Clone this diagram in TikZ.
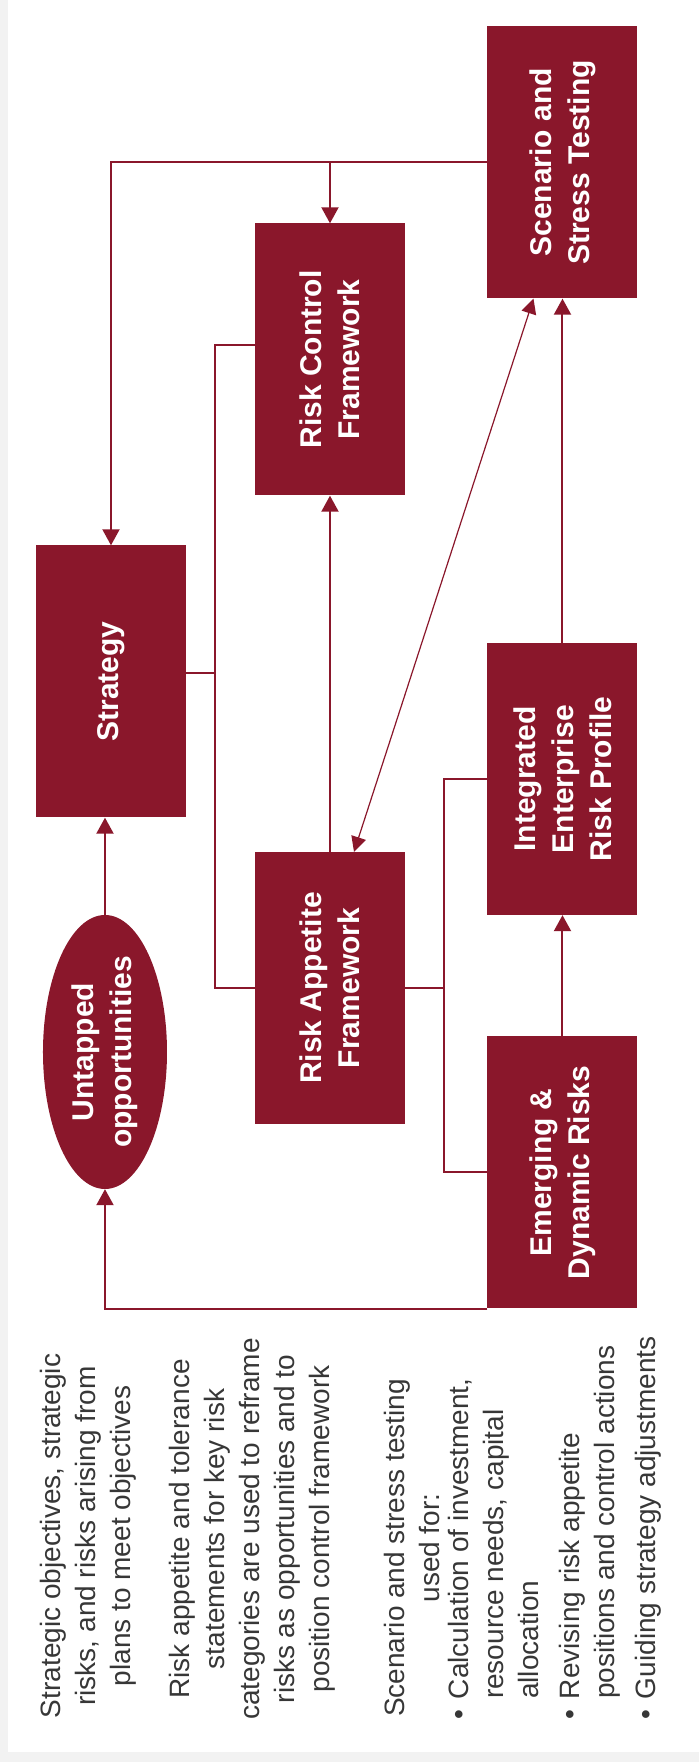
\documentclass[tikz,border=0pt]{standalone}
\usepackage{fontspec}
\setmainfont{Liberation Sans}
\usetikzlibrary{shapes.geometric, arrows.meta, positioning}
\definecolor{riskred}{RGB}{138,23,43}
\definecolor{notegray}{RGB}{55,55,55}
\tikzstyle{block}=[rectangle, fill=riskred, text=white, minimum width=272pt, minimum height=150pt, inner sep=0pt, align=center, font=\fontsize{30}{38}\selectfont\bfseries]
\tikzstyle{bubble}=[ellipse, fill=riskred, text=white, minimum width=274pt, minimum height=124pt, inner sep=0pt, align=center, font=\fontsize{30}{38}\selectfont\bfseries]
\tikzstyle{link}=[draw=riskred, line width=2pt]
\tikzstyle{flow}=[link, -{Triangle[length=16pt, width=17pt]}]
\tikzstyle{twoway}=[draw=riskred, line width=1.2pt, {Triangle[length=15pt, width=15pt]}-{Triangle[length=15pt, width=15pt]}]
\tikzstyle{note}=[inner sep=0pt, align=center, text=notegray, font=\fontsize{28}{35}\selectfont]

\begin{document}
\begin{tikzpicture}[x=1pt, y=1pt, rotate=90, transform shape]
    % Page with grey frame
    \useasboundingbox (0,0) rectangle (1762,699);
    \fill[gray!10] (0,0) rectangle (1762,699);
    \fill[white] (10,0) rectangle (1762,691);

    % Boxes
    \node[block] (scenario) at (1599.5,136.5) {Scenario and\\Stress Testing};
    \node[block] (integrated) at (983,136.5) {Integrated\\Enterprise\\Risk Profile};
    \node[block] (emerging) at (589.5,136.5) {Emerging \&\\Dynamic Risks};
    \node[block] (control) at (1402.5,369) {Risk Control\\Framework};
    \node[block] (appetite) at (774,369) {Risk Appetite\\Framework};
    \node[block] (strategy) at (1080.5,588) {Strategy};
    \node[bubble] (untapped) at (710,594) {Untapped\\opportunities};

    % Feedback from scenario testing
    \draw[flow] (scenario.north) |- (strategy.east);
    \draw[flow] (scenario.north |- control.east) -- (control.east);

    % Strategy, control and appetite bracket
    \draw[link] ([xshift=14pt]control.north) -- ++(0,40) -| (appetite.north);
    \draw[link] ([xshift=8pt]strategy.south) -- ++(0,-28);
    \draw[flow] (appetite.east) -- (control.west);

    % Two-way link
    \draw[twoway] ([yshift=-24pt]appetite.east) -- ([yshift=29pt]scenario.west);

    % Risk profile chain
    \draw[flow] (emerging.east) -- (integrated.west);
    \draw[flow] (integrated.east) -- (scenario.west);
    \draw[link] (integrated.north) -- ++(0,43) -| (emerging.north);
    \draw[link] (appetite.south) -- ++(0,-40);

    % Opportunities
    \draw[flow] (untapped.east) -- (untapped.east -| strategy.west);
    \draw[flow] (emerging.north west) |- (untapped.west);

    % Notes
    \node[note] (strategynote) at (226,611) {Strategic objectives, strategic\\risks, and risks arising from\\plans to meet objectives};
    \node[note] (appetitenote) at (233,447) {Risk appetite and tolerance\\statements for key risk\\categories are used to reframe\\risks as opportunities and to\\position control framework};
    \node[note] (testingnote) at (214,287) {Scenario and stress testing\\used for:};
    \node[note, anchor=west] (testinglist) at (42,144) {%
        \begin{tabular}{@{}l@{\hspace{11pt}}l@{}}
            \textbullet & Calculation of investment,\\
             & resource needs, capital\\
             & allocation\\[6pt]
            \textbullet & Revising risk appetite\\
             & positions and control actions\\[6pt]
            \textbullet & Guiding strategy adjustments
        \end{tabular}};
\end{tikzpicture}
\end{document}
